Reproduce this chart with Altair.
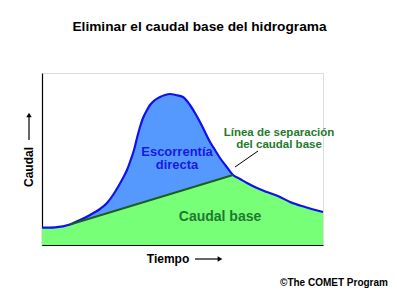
import altair as alt
import pandas as pd

# Hydrograph (time, discharge)
t_hydro = [0, 13, 28, 38, 48, 58, 65, 71, 76, 81, 85, 88, 92, 95, 98, 101, 105, 108, 113, 118,
           123, 128, 134, 141, 148, 153, 158, 163, 168, 173, 178, 184, 191, 198, 205, 215, 225,
           238, 248, 263, 281]
q_hydro = [17.3, 17.7, 20.5, 25, 30, 36, 42, 50, 58, 67, 75, 83, 95, 107, 118, 127, 135, 140,
           145, 148, 150, 151, 150, 148, 140, 132, 123, 113, 103, 95, 87, 79, 70, 66, 62, 57, 53,
           48, 43, 38, 33]

# Baseflow separation line (straight from start of rise to the inflection point)
t_sep = [28, 191]
q_sep = [20.5, 70]

# Baseflow area: start, separation line, then the recession limb
t_base_rise = [0, 13, 28, 191]
q_base_rise = [17.3, 17.7, 20.5, 70]
t_recess = [191, 198, 205, 215, 225, 238, 248, 263, 281]
q_recess = [70, 66, 62, 57, 53, 48, 43, 38, 33]

hydro = pd.DataFrame({"t": t_hydro, "q": q_hydro})
sep = pd.DataFrame({"t": t_sep, "q": q_sep})
base_rise = pd.DataFrame({"t": t_base_rise, "q": q_base_rise})
recess = pd.DataFrame({"t": t_recess, "q": q_recess})

labels = pd.DataFrame({
    "t": [135, 135, 178, 237, 237],
    "q": [93.5, 80, 28, 112, 100],
    "text": ["Escorrentía", "directa", "Caudal base", "Línea de separación", "del caudal base"],
    "kind": ["blue", "blue", "green", "green_s", "green_s"],
})

xs = alt.Scale(domain=[0, 281], nice=False, zero=False)
ys = alt.Scale(domain=[0, 172], nice=False, zero=True)
X = alt.X("t:Q", scale=xs, axis=alt.Axis(title="", ticks=False, labels=False, grid=False,
                                          domainColor="#000000", domainWidth=1.2))
Y = alt.Y("q:Q", scale=ys, axis=alt.Axis(title="", ticks=False, labels=False, grid=False,
                                          domainColor="#000000", domainWidth=1.2))

blue_area = alt.Chart(hydro).mark_area(color="#5599ff", interpolate="monotone").encode(x=X, y=Y)
green_rise = alt.Chart(base_rise).mark_area(color="#77ff77", interpolate="linear").encode(x=X, y=Y)
green_rec = alt.Chart(recess).mark_area(color="#77ff77", interpolate="monotone").encode(x=X, y=Y)
blue_line = alt.Chart(hydro).mark_line(color="#1010f0", strokeWidth=2.2, interpolate="monotone").encode(x=X, y=Y)
sep_line = alt.Chart(sep).mark_line(color="#1d5e1d", strokeWidth=2).encode(x=X, y=Y)

font = "Liberation Sans"

blue_txt = alt.Chart(labels[labels.kind == "blue"]).mark_text(
    font=font, fontWeight="bold", fontSize=13, color="#1a1ae6").encode(x=X, y=Y, text="text:N")
green_txt = alt.Chart(labels[labels.kind == "green"]).mark_text(
    font=font, fontWeight="bold", fontSize=14, color="#1e7a2e").encode(x=X, y=Y, text="text:N")
green_s_txt = alt.Chart(labels[labels.kind == "green_s"]).mark_text(
    font=font, fontWeight="bold", fontSize=11.5, color="#1e7a2e").encode(x=X, y=Y, text="text:N")

leader = pd.DataFrame({"t": [193], "q": [78], "t2": [216], "q2": [94]})
leader_rule = alt.Chart(leader).mark_rule(color="#000000", strokeWidth=1).encode(
    x=X, y=Y, x2="t2:Q", y2="q2:Q")

# Axis captions and arrows (outside the plot area)
cap = pd.DataFrame({"t": [126, 292], "q": [-14, -38], "text": ["Tiempo", "©The COMET Program"]})
tiempo = alt.Chart(cap.iloc[[0]]).mark_text(font=font, fontWeight="bold", fontSize=12, color="#000000").encode(
    x=X, y=Y, text="text:N")
comet = alt.Chart(cap.iloc[[1]]).mark_text(font=font, fontWeight="bold", fontSize=10, color="#000000").encode(
    x=X, y=Y, text="text:N")
caudal = alt.Chart(pd.DataFrame({"t": [-13], "q": [78], "text": ["Caudal"]})).mark_text(
    font=font, fontWeight="bold", fontSize=12, angle=270, color="#000000").encode(x=X, y=Y, text="text:N")

harrow = pd.DataFrame({"t": [153], "q": [-14], "t2": [178], "q2": [-14]})
harrow_rule = alt.Chart(harrow).mark_rule(color="#000000", strokeWidth=1.2).encode(x=X, y=Y, x2="t2:Q", y2="q2:Q")
harrow_head = alt.Chart(pd.DataFrame({"t": [178], "q": [-14]})).mark_point(
    shape="triangle-right", filled=True, size=30, color="#000000", opacity=1).encode(x=X, y=Y)
varrow = pd.DataFrame({"t": [-13], "q": [105], "t2": [-13], "q2": [130]})
varrow_rule = alt.Chart(varrow).mark_rule(color="#000000", strokeWidth=1.2).encode(x=X, y=Y, x2="t2:Q", y2="q2:Q")
varrow_head = alt.Chart(pd.DataFrame({"t": [-13], "q": [130]})).mark_point(
    shape="triangle-up", filled=True, size=30, color="#000000", opacity=1).encode(x=X, y=Y)

chart = alt.layer(
    blue_area, green_rise, green_rec, blue_line, sep_line,
    blue_txt, green_txt, green_s_txt, leader_rule,
    tiempo, comet, caudal, harrow_rule, harrow_head, varrow_rule, varrow_head,
).properties(
    width=281, height=172,
    autosize=alt.AutoSizeParams(type="none"),
    padding={"left": 42, "top": 73, "right": 74, "bottom": 51},
    title=alt.TitleParams("Eliminar el caudal base del hidrograma", font=font, fontSize=13.7,
                          fontWeight="bold", color="#000000", anchor="middle", dx=17, offset=39),
).configure_view(stroke=None).configure(background="#ffffff")

chart.save("out.html", embed_options={"renderer": "svg", "actions": False})
